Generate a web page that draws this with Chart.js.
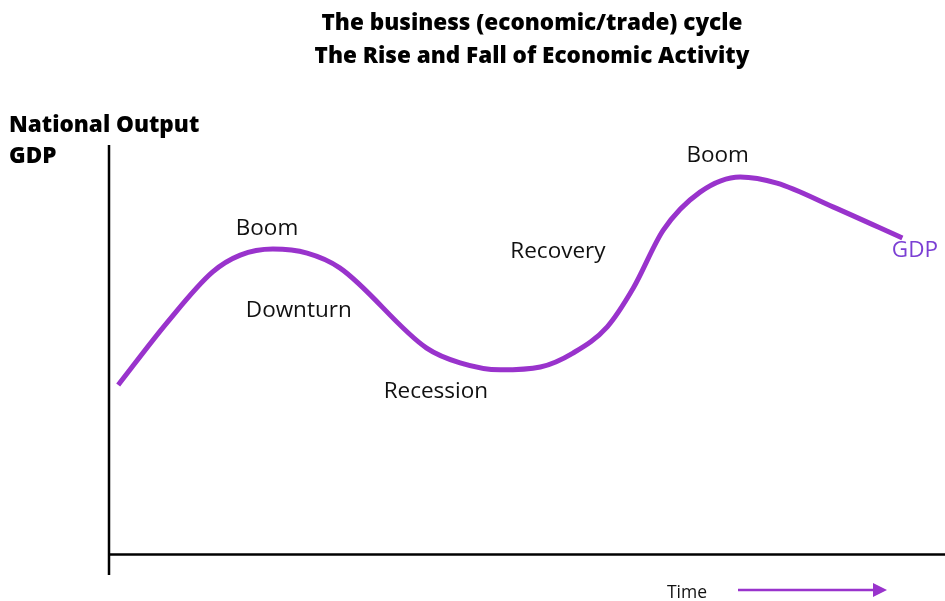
<!DOCTYPE html>
<html>
<head>
<meta charset="utf-8">
<script src="https://cdn.jsdelivr.net/npm/chart.js@4/dist/chart.umd.min.js"></script>
<style>
  html, body { margin: 0; padding: 0; background: #fff; }
  #wrap { width: 945px; height: 601px; position: relative; }
</style>
</head>
<body>
<div id="wrap"><canvas id="cycleChart"></canvas></div>
<script>
// Curve data (time, output)
const timeValues = [1.1, 6.9, 12.4, 15.7, 19.6, 23.7, 27.6, 38.0, 42.0, 46.8, 51.6, 55.5, 59.6, 62.7, 66.3, 70.7, 75.5, 79.9, 86.6, 94.9];
const gdpValues = [41.4, 56.5, 69.0, 73.1, 74.6, 73.6, 70.0, 50.4, 46.8, 45.1, 45.8, 49.2, 55.6, 65.0, 79.2, 88.5, 92.2, 90.7, 84.9, 77.3];

// Phase labels
const phaseNames = ['Boom', 'Downturn', 'Recession', 'Recovery', 'Boom'];
const phaseX = [18.9, 22.7, 39.1, 53.7, 72.8];
const phaseY = [79.5, 59.5, 39.7, 73.9, 97.3];

const titleLines = ['The business (economic/trade) cycle', 'The Rise and Fall of Economic Activity'];
const yAxisLabels = ['National Output', 'GDP'];
const seriesName = 'GDP';
const xAxisName = 'Time';

const curveColor = '#9933cc';
const gdpColor = '#7b3fd4';
const fontName = '"Open Sans", "Noto Sans", sans-serif';

// Draw axes, labels and titles
const decorPlugin = {
    id: 'decor',
    afterDatasetsDraw(chart) {
        const ctx = chart.ctx;
        const x = chart.scales.x;
        const y = chart.scales.y;
        ctx.save();

        // axes
        ctx.strokeStyle = '#000';
        ctx.lineWidth = 2.5;
        ctx.beginPath();
        ctx.moveTo(x.getPixelForValue(0), y.getPixelForValue(100));
        ctx.lineTo(x.getPixelForValue(0), y.getPixelForValue(-5));
        ctx.stroke();
        ctx.beginPath();
        ctx.moveTo(x.getPixelForValue(0), y.getPixelForValue(0));
        ctx.lineTo(x.getPixelForValue(100), y.getPixelForValue(0));
        ctx.stroke();

        // phase labels
        ctx.fillStyle = '#111';
        ctx.font = '22.5px ' + fontName;
        ctx.textAlign = 'center';
        ctx.textBaseline = 'middle';
        phaseNames.forEach((name, i) => {
            ctx.fillText(name, x.getPixelForValue(phaseX[i]), y.getPixelForValue(phaseY[i]));
        });

        // series label
        ctx.fillStyle = gdpColor;
        ctx.fillText(seriesName, x.getPixelForValue(96.4), y.getPixelForValue(74.1));

        // titles
        ctx.fillStyle = '#000';
        ctx.font = '800 22.5px ' + fontName;
        ctx.fillText(titleLines[0], 532, 24);
        ctx.fillText(titleLines[1], 532, 57);

        // y axis label
        ctx.textAlign = 'left';
        ctx.fillText(yAxisLabels[0], 9, 126);
        ctx.fillText(yAxisLabels[1], 9, 157);

        // time label and arrow
        ctx.font = '17.5px ' + fontName;
        ctx.fillStyle = '#111';
        ctx.textAlign = 'center';
        ctx.fillText(xAxisName, 687, 593);
        const ay = 590;
        ctx.strokeStyle = curveColor;
        ctx.fillStyle = curveColor;
        ctx.lineWidth = 2.5;
        ctx.beginPath();
        ctx.moveTo(738, ay);
        ctx.lineTo(878, ay);
        ctx.stroke();
        ctx.beginPath();
        ctx.moveTo(887, ay);
        ctx.lineTo(873, ay - 7);
        ctx.lineTo(873, ay + 7);
        ctx.closePath();
        ctx.fill();

        ctx.restore();
    }
};

const ctx = document.getElementById('cycleChart').getContext('2d');
const cycleChart = new Chart(ctx, {
    type: 'scatter',
    data: {
        datasets: [{
            label: seriesName,
            data: timeValues.map((t, i) => ({ x: t, y: gdpValues[i] })),
            showLine: true,
            borderColor: curveColor,
            borderWidth: 5,
            pointRadius: 0,
            cubicInterpolationMode: 'monotone',
            borderCapStyle: 'butt'
        }]
    },
    options: {
        responsive: true,
        maintainAspectRatio: false,
        animation: false,
        layout: {
            padding: { left: 109, right: 0, top: 145, bottom: 26 }
        },
        plugins: {
            legend: { display: false },
            tooltip: { enabled: false }
        },
        scales: {
            x: { type: 'linear', min: 0, max: 100, display: false },
            y: { type: 'linear', min: -5, max: 100, display: false }
        }
    },
    plugins: [decorPlugin]
});
</script>
</body>
</html>
